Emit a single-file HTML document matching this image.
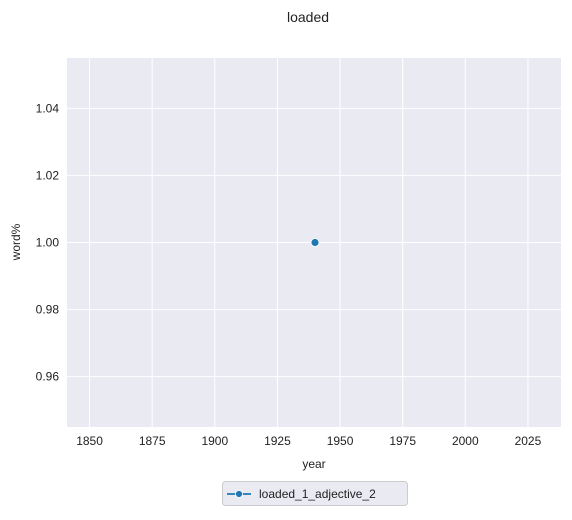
<!DOCTYPE html>
<html><head><meta charset="utf-8"><style>
body{margin:0;background:#fff;font-family:"Liberation Sans","DejaVu Sans",sans-serif}
</style></head><body>
<svg width="572" height="515" xmlns="http://www.w3.org/2000/svg" id="chart" font-family="Liberation Sans, DejaVu Sans, sans-serif">
<text x="308" y="22" text-anchor="middle" font-size="14" fill="#222">loaded</text>
<rect x="67" y="58" width="494" height="369" fill="#eaeaf2"/>
<g id="grid"></g><g id="ticks"></g><g id="marks"></g>
<text x="314" y="468" text-anchor="middle" font-size="12" fill="#222">year</text>
<text transform="translate(20,242) rotate(-90)" text-anchor="middle" font-size="12" fill="#222">word%</text>
<g>
<rect x="222.5" y="481.5" width="185" height="24" rx="3" fill="#eaeaf2" stroke="#cccccc"/>
<line x1="227" y1="494" x2="251" y2="494" stroke="#1f77b4" stroke-width="1.8"/>
<circle cx="239" cy="494" r="3.5" fill="#1f77b4" stroke="#fff" stroke-width="0.8"/>
<text x="259" y="498" font-size="12" fill="#222">loaded_1_adjective_2</text>
</g>
</svg>
<script>
const years=[1940];
const values=[1.0];
const xTicks=[1850,1875,1900,1925,1950,1975,2000,2025];
const yTicks=[0.96,0.98,1.00,1.02,1.04];
const ns="http://www.w3.org/2000/svg";
const X0=67,X1=561,Y0=58,Y1=427;
const xMin=1841,xMax=2038.2,yMin=0.945,yMax=1.055;
function sx(v){return X0+(v-xMin)/(xMax-xMin)*(X1-X0);}
function sy(v){return Y1-(v-yMin)/(yMax-yMin)*(Y1-Y0);}
function mk(t,a,p){const e=document.createElementNS(ns,t);for(const k in a)e.setAttribute(k,a[k]);document.getElementById(p).appendChild(e);return e;}
xTicks.forEach(t=>{
const g=mk('line',{x1:sx(t),x2:sx(t),y1:Y0,y2:Y1,stroke:'#fff','stroke-width':1},'grid');


const l=mk('text',{x:sx(t),y:Y1+18,'text-anchor':'middle','font-size':12,fill:'#222'},'ticks');
l.textContent=t;


});
yTicks.forEach(t=>{
const g=mk('line',{x1:X0,x2:X1,y1:sy(t),y2:sy(t),stroke:'#fff','stroke-width':1},'grid');


const l=mk('text',{x:X0-8,y:sy(t)+4,'text-anchor':'end','font-size':12,fill:'#222'},'ticks');
l.textContent=t.toFixed(2);


});
years.forEach((y,i)=>{
const c=mk('circle',{cx:sx(y),cy:sy(values[i]),r:4,fill:'#1f77b4',stroke:'#fff','stroke-width':0.8},'marks');


});
</script>
</body></html>
